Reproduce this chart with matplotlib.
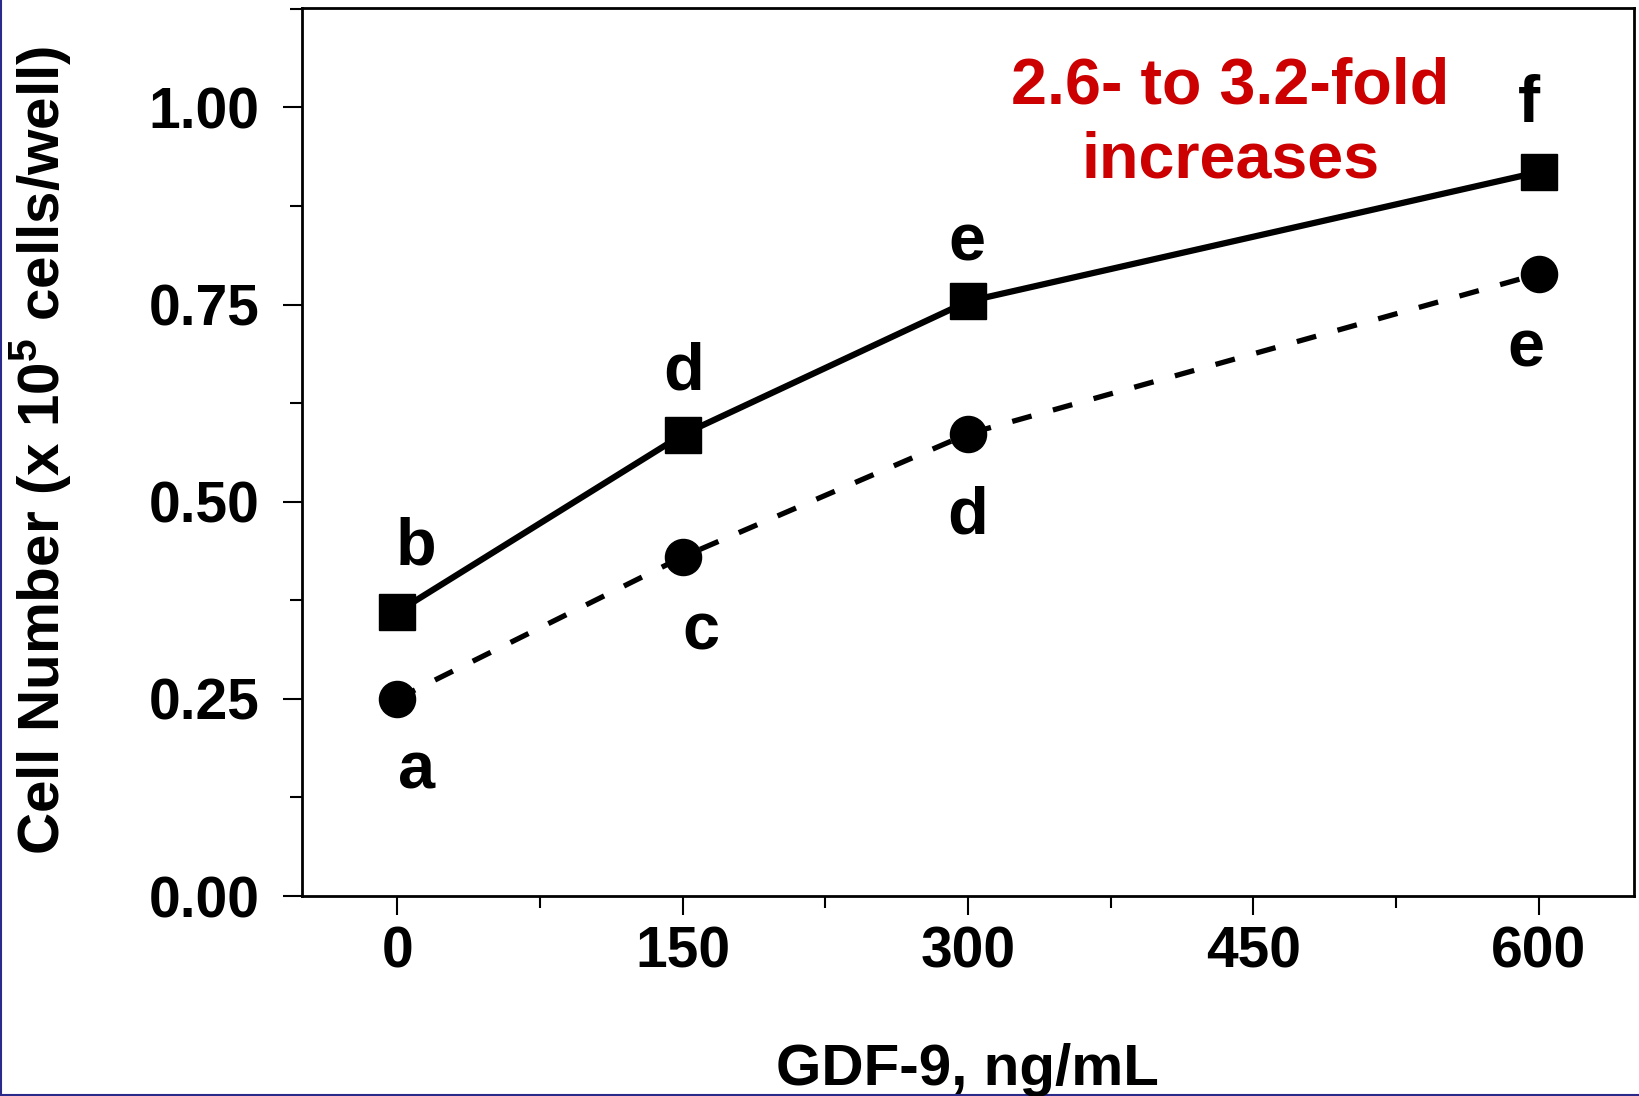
import matplotlib
matplotlib.use("Agg")
import matplotlib.pyplot as plt
from matplotlib.lines import Line2D
from matplotlib.ticker import MultipleLocator

plt.rcParams['font.family'] = ['Liberation Sans', 'DejaVu Sans']
plt.rcParams['font.weight'] = 'bold'
plt.rcParams['mathtext.fontset'] = 'custom'
plt.rcParams['mathtext.rm'] = 'Liberation Sans:bold'
plt.rcParams['mathtext.bf'] = 'Liberation Sans:bold'

# GDF-9 dose (ng/mL)
dose = [0, 150, 300, 600]
# cell number, x 10^5 cells/well
upper_series = [0.36, 0.585, 0.754, 0.918]   # squares, solid line
lower_series = [0.25, 0.43, 0.586, 0.789]    # circles, dashed line
upper_letters = ['b', 'd', 'e', 'f']
lower_letters = ['a', 'c', 'd', 'e']

xticks = [0, 150, 300, 450, 600]
yticks = [0.00, 0.25, 0.50, 0.75, 1.00]
ylabel = 'Cell Number (x 10$^{5}$ cells/well)'
xlabel = 'GDF-9, ng/mL'
note_lines = ['2.6- to 3.2-fold', 'increases']

W, H = 1640, 1096
fig = plt.figure(figsize=(W / 100, H / 100), dpi=100)
ax = fig.add_axes([302 / W, 1 - 896 / H, 1332 / W, 888 / H])

ax.plot(dose, upper_series, color='black', lw=4.5, marker='s', ms=26, mew=1,
        solid_capstyle='butt')
ax.plot(dose, lower_series, color='black', lw=3.8, marker='o', ms=26, mew=1,
        dashes=(3.8, 4.2))

# letter annotations, offsets in pixels from each point
px = 0.72
up_off = [(19, 48), (1, 45), (-1, 41), (-10, 50)]
lo_off = [(19, -90), (18, -93), (0, -100), (-13, -93)]
for x, y, s, o in zip(dose, upper_series, upper_letters, up_off):
    ax.annotate(s, (x, y), xytext=(o[0] * px, o[1] * px), textcoords='offset points',
                ha='center', va='baseline', fontsize=48, fontweight='bold')
for x, y, s, o in zip(dose, lower_series, lower_letters, lo_off):
    ax.annotate(s, (x, y), xytext=(o[0] * px, o[1] * px), textcoords='offset points',
                ha='center', va='baseline', fontsize=48, fontweight='bold')

ax.text(0.697, 0.893, note_lines[0], transform=ax.transAxes, ha='center',
        va='baseline', fontsize=46.5, fontweight='bold', color='#cc0000')
ax.text(0.697, 0.8086, note_lines[1], transform=ax.transAxes, ha='center',
        va='baseline', fontsize=46.5, fontweight='bold', color='#cc0000')

ax.set_xlim(-50, 650)
ax.set_ylim(0, 1.126)
ax.set_xticks(xticks)
ax.set_xticklabels([str(v) for v in xticks])
ax.set_yticks(yticks)
ax.set_yticklabels(['%.2f' % v for v in yticks])
ax.xaxis.set_minor_locator(MultipleLocator(75))
ax.yaxis.set_minor_locator(MultipleLocator(0.125))

ax.tick_params(which='major', direction='out', length=13.5, width=1.5, labelsize=41)
ax.tick_params(which='minor', direction='out', length=8.6, width=1.5)
ax.tick_params(axis='x', which='major', pad=8)
ax.tick_params(axis='y', which='major', pad=17)
for lab in ax.get_xticklabels() + ax.get_yticklabels():
    lab.set_fontweight('bold')
for sp in ax.spines.values():
    sp.set_linewidth(2)

fig.text(60 / W, 1 - 450 / H, ylabel, rotation=90, ha='center', va='baseline',
         rotation_mode='anchor', fontsize=42, fontweight='bold')
fig.text(967 / W, 1 - 1085 / H, xlabel, ha='center', va='baseline',
         fontsize=42, fontweight='bold')

# thin navy frame edges (left and bottom)
navy = '#2a2a8a'
fig.add_artist(Line2D([0.5 / W, 0.5 / W], [0, 1], color=navy, lw=1.5, transform=fig.transFigure))
fig.add_artist(Line2D([0, 1], [1.5 / H, 1.5 / H], color=navy, lw=1.5, transform=fig.transFigure))

fig.savefig('out.png', dpi=100)
